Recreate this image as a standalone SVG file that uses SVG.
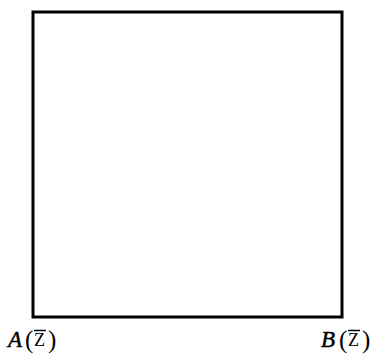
<svg xmlns="http://www.w3.org/2000/svg" width="374" height="356" viewBox="0 0 374 356">
<style>
.lbl{font-family:"Liberation Serif","DejaVu Serif",serif;fill:#000}
.v{font-size:23px;font-style:italic}
.p{font-size:25px}
.z{font-size:18px}
.bar{stroke:#000;stroke-width:1.5;fill:none}
</style>
<rect width="374" height="356" fill="#fff"/>
<g id="square"><rect x="33" y="12" width="309" height="305" fill="none" stroke="#000" stroke-width="3"/></g>
<g id="connectors"></g>
<g id="labelA"><text class="lbl" y="347"><tspan class="v" x="8" style="stroke:#000;stroke-width:0.5">A</tspan><tspan class="p" x="25" y="348">(</tspan><tspan class="z" x="34" y="346">Z</tspan><tspan class="p" x="48" y="348">)</tspan></text><path class="bar" d="M34 330.5H46"/></g>
<g id="labelB"><text class="lbl" y="347"><tspan class="v" x="321" style="stroke:#000;stroke-width:0.5">B</tspan><tspan class="p" x="339" y="348">(</tspan><tspan class="z" x="348" y="346">Z</tspan><tspan class="p" x="362" y="348">)</tspan></text><path class="bar" d="M348 330.5H360"/></g>
</svg>
